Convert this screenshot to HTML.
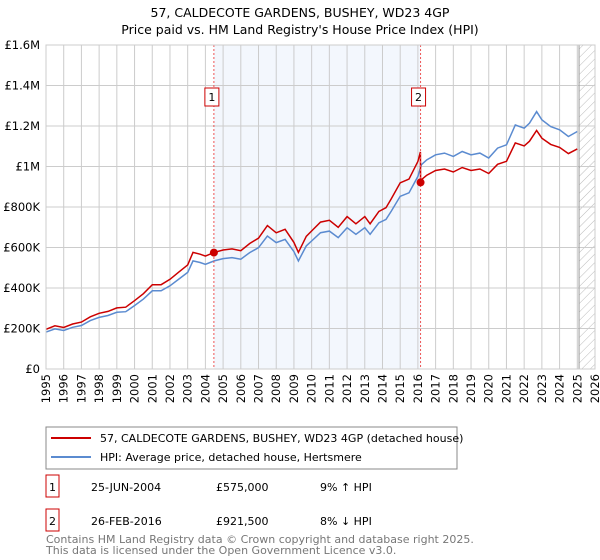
<!DOCTYPE html>
<html><head><meta charset="utf-8"><style>
body{margin:0;background:#fff;font-family:"Liberation Sans","DejaVu Sans",sans-serif;}
#wrap{position:relative;width:600px;height:560px;overflow:hidden;}
svg text{font-family:"DejaVu Sans","Liberation Sans",sans-serif;}
</style></head><body>
<div id="wrap">
<svg id="chart" width="600" height="560">
<defs><pattern id="hatch" width="6" height="6" patternUnits="userSpaceOnUse" patternTransform="rotate(45)"><line x1="0" y1="0" x2="0" y2="6" stroke="#bbb" stroke-width="1"/></pattern></defs>
<text x="300" y="17" text-anchor="middle" font-size="12.5" fill="#000">57, CALDECOTE GARDENS, BUSHEY, WD23 4GP</text>
<text x="300" y="34" text-anchor="middle" font-size="12.5" fill="#000">Price paid vs. HM Land Registry's House Price Index (HPI)</text>
<g id="plot"></g>
</svg>
</div>
<script>
const hpiYears=[1995,1995.5,1996,1996.5,1997,1997.5,1998,1998.5,1999,1999.5,2000,2000.5,2001,2001.5,2002,2002.5,2003,2003.3,2003.7,2004,2004.5,2005,2005.5,2006,2006.5,2007,2007.5,2008,2008.5,2009,2009.25,2009.7,2010,2010.5,2011,2011.5,2012,2012.5,2013,2013.3,2013.8,2014.2,2014.5,2015,2015.5,2016,2016.2,2016.5,2017,2017.5,2018,2018.5,2019,2019.5,2020,2020.5,2021,2021.5,2022,2022.3,2022.7,2023,2023.5,2024,2024.5,2025];
const hpiValues=[182,198,190,206,215,239,255,264,280,283,313,345,386,386,411,444,477,534,526,517,534,545,550,542,575,599,657,624,640,580,534,608,632,673,681,649,698,665,698,665,722,739,780,853,870,951,1009,1033,1058,1066,1050,1074,1058,1066,1042,1091,1107,1205,1189,1214,1271,1230,1197,1181,1148,1173];
const saleDates=[2004.48,2016.15];
const salePrices=[575,921.5];
const saleLabels=["1","2"];
const yTicks=[0,200,400,600,800,1000,1200,1400,1600];
const yTickLabels=["£0","£200K","£400K","£600K","£800K","£1M","£1.2M","£1.4M","£1.6M"];
const xStart=1995,xEnd=2026;

const L=46,R=595,T=45,B=369;
const xs=y=>L+(y-xStart)/(xEnd-xStart)*(R-L);
const ys=v=>B-v/1600*(B-T);
const g=document.getElementById('plot');
const NS='http://www.w3.org/2000/svg';
function mk(t,a){const e=document.createElementNS(NS,t);for(const k in a)e.setAttribute(k,a[k]);g.appendChild(e);return e;}
function hpiAt(t){for(let i=0;i<hpiYears.length-1;i++){if(t<=hpiYears[i+1]){const f=(t-hpiYears[i])/(hpiYears[i+1]-hpiYears[i]);return hpiValues[i]+f*(hpiValues[i+1]-hpiValues[i]);}}return hpiValues[hpiValues.length-1];}

let e=mk('rect',{x:xs(saleDates[0]),y:T,width:xs(saleDates[1])-xs(saleDates[0]),height:B-T,fill:'#eef3fc',opacity:0.7});


e=mk('rect',{x:xs(2025.1),y:T,width:R-xs(2025.1),height:B-T,fill:'url(#hatch)'});


for(let y=xStart;y<=xEnd;y++){
  e=mk('line',{x1:xs(y),x2:xs(y),y1:T,y2:B,stroke:'#ccc','stroke-width':1});
  
  
  e=mk('text',{x:0,y:0,'font-size':11.5,fill:'#000','text-anchor':'end',transform:`translate(${xs(y)+4},${B+5}) rotate(-90)`});
  e.textContent=y;
  
  
}
yTicks.forEach((v,i)=>{
  e=mk('line',{x1:L,x2:R,y1:ys(v),y2:ys(v),stroke:'#ccc','stroke-width':1});
  
  
  e=mk('text',{x:40,y:ys(v)+4,'font-size':11.5,fill:'#000','text-anchor':'end'});
  e.textContent=yTickLabels[i];
  
  
});
e=mk('line',{x1:xs(2025.1),x2:xs(2025.1),y1:T,y2:B,stroke:'#999','stroke-width':1});


let d=hpiYears.map((t,i)=>(i?'L':'M')+xs(t).toFixed(1)+','+ys(hpiValues[i]).toFixed(1)).join('');
e=mk('path',{d:d,fill:'none',stroke:'#5b8bd0','stroke-width':1.5});


const r1=salePrices[0]/hpiAt(saleDates[0]),r2=salePrices[1]/hpiAt(saleDates[1]);
let pts=[];
hpiYears.forEach((t,i)=>{if(t<saleDates[1])pts.push([t,hpiValues[i]*r1]);});
pts.push([saleDates[1]-0.01,hpiAt(saleDates[1])*r1]);
pts.push([saleDates[1],salePrices[1]]);
hpiYears.forEach((t,i)=>{if(t>saleDates[1])pts.push([t,hpiValues[i]*r2]);});
d=pts.map((p,i)=>(i?'L':'M')+xs(p[0]).toFixed(1)+','+ys(p[1]).toFixed(1)).join('');
e=mk('path',{d:d,fill:'none',stroke:'#cc0000','stroke-width':1.5});


saleDates.forEach((t,i)=>{
  e=mk('line',{x1:xs(t),x2:xs(t),y1:T,y2:B,stroke:'#e55','stroke-width':1,'stroke-dasharray':'2,2'});
  
  
  e=mk('circle',{cx:xs(t),cy:ys(salePrices[i]),r:4,fill:'#cc0000'});
  
  
  e=mk('rect',{x:xs(t)-9,y:88,width:14,height:18,fill:'#fff',stroke:'#cc0000','stroke-width':1});
  
  
  e=mk('text',{x:xs(t)-2,y:101,'font-size':11,'text-anchor':'middle',fill:'#000'});
  e.textContent=saleLabels[i];
  
  
});
e=mk('rect',{x:L,y:T,width:R-L,height:B-T,fill:'none',stroke:'#ccc'});


e=mk('rect',{x:46,y:427,width:411,height:42,fill:'#fff',stroke:'#888'});


[['#cc0000','57, CALDECOTE GARDENS, BUSHEY, WD23 4GP (detached house)',438],['#5b8bd0','HPI: Average price, detached house, Hertsmere',457]].forEach(l=>{
  e=mk('line',{x1:51,x2:91,y1:l[2],y2:l[2],stroke:l[0],'stroke-width':2});
  
  
  e=mk('text',{x:100,y:l[2]+4,'font-size':11,fill:'#000'});
  e.textContent=l[1];
  
  
});
[['1','25-JUN-2004','£575,000','9% ↑ HPI',494],['2','26-FEB-2016','£921,500','8% ↓ HPI',528]].forEach(r=>{
  e=mk('rect',{x:46,y:r[4]-19,width:13,height:22,fill:'#fff',stroke:'#cc0000'});
  
  
  [[52.5,r[0],'middle'],[91,r[1],'start'],[216,r[2],'start'],[320,r[3],'start']].forEach(c=>{
    e=mk('text',{x:c[0],y:r[4]-3,'font-size':11,fill:'#000','text-anchor':c[2]});
    e.textContent=c[1];
    
    
  });
});
[['Contains HM Land Registry data © Crown copyright and database right 2025.',546],['This data is licensed under the Open Government Licence v3.0.',557]].forEach(f=>{
  e=mk('text',{x:46,y:f[1]-3,'font-size':11,fill:'#777'});
  e.textContent=f[0];
  
  
});
</script>
</body></html>
